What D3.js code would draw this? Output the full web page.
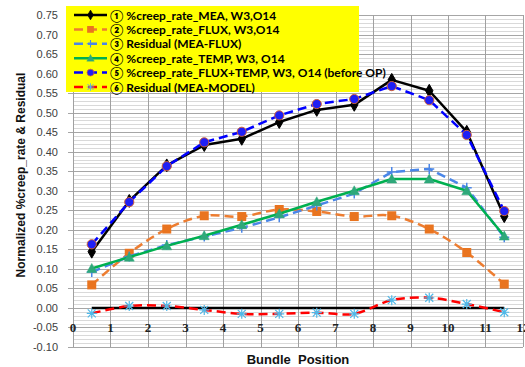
<!DOCTYPE html>
<html>
<head>
<meta charset="utf-8">
<script src="https://cdn.jsdelivr.net/npm/d3@7"></script>
<style>
  html, body { margin: 0; padding: 0; background: #fff; }
  svg { display: block; }
</style>
</head>
<body>
<svg id="chart" width="525" height="367"></svg>
<script>
// Bundle positions (x) and normalized creep-rate series
const positions = [0.5, 1.5, 2.5, 3.5, 4.5, 5.5, 6.5, 7.5, 8.5, 9.5, 10.5, 11.5];
const creepMEA      = [0.144, 0.274, 0.365, 0.417, 0.433, 0.476, 0.507, 0.52, 0.584, 0.556, 0.451, 0.235];
const creepFLUX     = [0.059, 0.14, 0.202, 0.236, 0.234, 0.252, 0.247, 0.234, 0.236, 0.202, 0.142, 0.061];
const residualFLUX  = [0.092, 0.132, 0.161, 0.183, 0.205, 0.232, 0.262, 0.293, 0.348, 0.356, 0.308, 0.181];
const creepTEMP     = [0.101, 0.13, 0.159, 0.185, 0.213, 0.241, 0.272, 0.3, 0.33, 0.33, 0.3, 0.184];
const creepFluxTemp = [0.163, 0.271, 0.363, 0.424, 0.451, 0.493, 0.522, 0.535, 0.568, 0.532, 0.443, 0.248];
const residualMODEL = [-0.014, 0.005, 0.005, -0.005, -0.015, -0.015, -0.012, -0.015, 0.02, 0.026, 0.01, -0.011];
const zeroLine      = [0, 0, 0, 0, 0, 0, 0, 0, 0, 0, 0, 0];

const xTicks = d3.range(0, 13, 1);
const yTicks = d3.range(-0.10, 0.7501, 0.05);
const yMinorTicks = d3.range(-0.10, 0.7501, 0.01);

const legendLabels = [
  "\u2460 %creep_rate_MEA, W3,O14",
  "\u2461 %creep_rate_FLUX, W3,O14",
  "\u2462 Residual (MEA-FLUX)",
  "\u2463 %creep_rate_TEMP, W3, O14",
  "\u2464 %creep_rate_FLUX+TEMP, W3, O14 (before OP)",
  "\u2465 Residual (MEA-MODEL)"
];

const svg = d3.select("#chart");
const x = d3.scaleLinear().domain([0, 12]).range([73, 523]);
const y = d3.scaleLinear().domain([-0.10, 0.75]).range([347, 15]);

// Minor horizontal grid
svg.append("g").selectAll("line").data(yMinorTicks).join("line")
  .attr("x1", x(0)).attr("x2", x(12))
  .attr("y1", d => Math.round(y(d)) + 0.5).attr("y2", d => Math.round(y(d)) + 0.5)
  .attr("stroke", "#d9d9d9").attr("stroke-width", 1);

// Major horizontal grid + tick marks
svg.append("g").selectAll("line").data(yTicks).join("line")
  .attr("x1", x(0) - 5).attr("x2", x(12))
  .attr("y1", d => Math.round(y(d)) + 0.5).attr("y2", d => Math.round(y(d)) + 0.5)
  .attr("stroke", "#a6a6a6").attr("stroke-width", 1);

// Vertical grid
svg.append("g").selectAll("line").data(xTicks).join("line")
  .attr("x1", d => Math.round(x(d)) + 0.5).attr("x2", d => Math.round(x(d)) + 0.5)
  .attr("y1", y(0.75)).attr("y2", y(-0.10))
  .attr("stroke", "#a0a0a0").attr("stroke-width", 1);

// Y tick labels
svg.append("g").selectAll("text").data(yTicks).join("text")
  .attr("x", 58).attr("y", d => y(d) + 4)
  .attr("text-anchor", "end")
  .attr("font-family", "Liberation Sans, Arial, sans-serif")
  .attr("font-size", 11).attr("fill", "#404040")
  .text(d => d3.format(".2f")(d).replace("\u2212", "-"));

// X tick labels (placed under the zero axis)
svg.append("g").selectAll("text").data(xTicks).join("text")
  .attr("x", d => x(d)).attr("y", y(0) + 24)
  .attr("text-anchor", "middle")
  .attr("font-family", "Liberation Serif, Times New Roman, serif")
  .attr("font-weight", "bold")
  .attr("font-size", 13).attr("fill", "#222")
  .text(d => d);

// Axis titles
svg.append("text")
  .attr("x", x(6)).attr("y", 364)
  .attr("text-anchor", "middle")
  .attr("font-family", "Liberation Sans, Arial, sans-serif")
  .attr("font-weight", "bold").attr("font-size", 13).attr("fill", "#111")
  .attr("xml:space", "preserve")
  .text("Bundle  Position");

svg.append("text")
  .attr("transform", `translate(25,${(y(0.75) + y(-0.10)) / 2 - 6}) rotate(-90)`)
  .attr("text-anchor", "middle")
  .attr("font-family", "Liberation Sans, Arial, sans-serif")
  .attr("font-weight", "bold").attr("font-size", 12).attr("fill", "#111")
  .text("Normalized %creep_rate & Residual");

// Marker drawing helpers (k scales the marker size)
function drawMarker(g, type, cx, cy, color, k = 1) {
  const t = `translate(${cx},${cy}) scale(${k})`;
  if (type === "diamond") {
    g.append("path").attr("transform", t)
      .attr("d", d3.symbol(d3.symbolDiamond, 48)())
      .attr("fill", color).attr("stroke", color);
  } else if (type === "square") {
    g.append("path").attr("transform", t)
      .attr("d", "M-4.5,-4.5H4.5V4.5H-4.5Z").attr("fill", color);
  } else if (type === "plus") {
    g.append("path").attr("transform", t)
      .attr("d", "M-5,0H5M0,-5V5")
      .attr("stroke", color).attr("stroke-width", 1.5).attr("fill", "none");
  } else if (type === "triangle") {
    g.append("path").attr("transform", t)
      .attr("d", "M0,-5L5,4L-5,4Z")
      .attr("fill", color).attr("stroke", color).attr("stroke-width", 0.5);
  } else if (type === "circle") {
    g.append("circle").attr("transform", t).attr("r", 4.6)
      .attr("fill", "#1f1ff5").attr("stroke", "#d0603a").attr("stroke-width", 1);
  } else if (type === "star") {
    g.append("path").attr("transform", t)
      .attr("d", "M-5,0H5M0,-5V5M-4,-4L4,4M-4,4L4,-4")
      .attr("stroke", color).attr("stroke-width", 1.2).attr("fill", "none");
  }
}

const series = [
  { values: creepMEA,      color: "#000000", dash: null,  width: 2.5, marker: "diamond",  mcolor: "#000000", smooth: false },
  { values: creepFLUX,     color: "#ED7D31", dash: "9,5", width: 2.5, marker: "square",   mcolor: "#E9741F", smooth: true },
  { values: residualFLUX,  color: "#4A86E8", dash: "9,5", width: 2.5, marker: "plus",     mcolor: "#4A86E8", smooth: false },
  { values: creepTEMP,     color: "#00B050", dash: null,  width: 2.5, marker: "triangle", mcolor: "#2EA87A", smooth: false },
  { values: creepFluxTemp, color: "#0000FF", dash: "9,5", width: 2.5, marker: "circle",   mcolor: "#0000FF", smooth: false },
  { values: residualMODEL, color: "#FF0000", dash: "9,5", width: 2.5, marker: "star",     mcolor: "#4FB8E8", smooth: true }
];

const plot = svg.append("g");

// Zero reference line across the bundle positions
plot.append("path")
  .datum(zeroLine)
  .attr("d", d3.line().x((d, i) => x(positions[i])).y(d => y(d)))
  .attr("fill", "none").attr("stroke", "#000").attr("stroke-width", 2.5);

series.forEach(s => {
  const line = d3.line()
    .x((d, i) => x(positions[i])).y(d => y(d))
    .curve(s.smooth ? d3.curveCatmullRom.alpha(0) : d3.curveLinear);
  const g = plot.append("g");
  g.append("path").datum(s.values)
    .attr("d", line)
    .attr("fill", "none").attr("stroke", s.color)
    .attr("stroke-width", s.width)
    .attr("stroke-dasharray", s.dash)
    .attr("stroke-linejoin", "round");
  s.values.forEach((v, i) => drawMarker(g, s.marker, x(positions[i]), y(v), s.mcolor));
});

// Legend
const legend = svg.append("g");
legend.append("rect")
  .attr("x", 66).attr("y", 6).attr("width", 293).attr("height", 86)
  .attr("fill", "#FFFF00");

series.forEach((s, i) => {
  const cy = 15 + i * 14.4;
  const g = legend.append("g");
  g.append("line")
    .attr("x1", 74).attr("x2", 107).attr("y1", cy).attr("y2", cy)
    .attr("stroke", s.color).attr("stroke-width", 2.5)
    .attr("stroke-dasharray", s.dash);
  drawMarker(g, s.marker, 90.5, cy, s.mcolor, 0.75);
  g.append("text")
    .attr("x", 110).attr("y", cy + 4.5)
    .attr("font-family", "Lato, Liberation Sans, sans-serif")
    .attr("font-weight", "bold").attr("font-size", 12).attr("fill", "#000")
    .text(legendLabels[i]);
});
</script>
</body>
</html>
